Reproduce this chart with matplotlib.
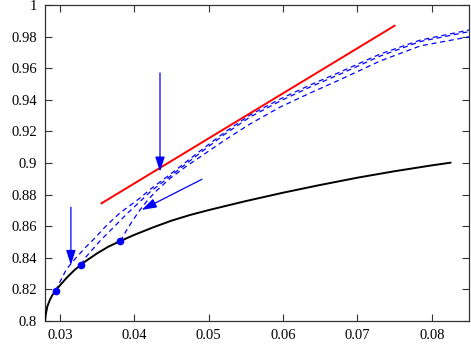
import numpy as np
import matplotlib
matplotlib.use('Agg')
import matplotlib.pyplot as plt
from matplotlib.ticker import FuncFormatter

# black reference curve
base_x = [0.0280, 0.0281, 0.0283, 0.02865, 0.0290, 0.02942, 0.0300, 0.0310, 0.0320, 0.03283,
          0.0335, 0.0350, 0.0365, 0.03812, 0.0400, 0.0425, 0.0450, 0.0475, 0.0500,
          0.0550, 0.0600, 0.0650, 0.0700, 0.0750, 0.0800, 0.0825]
base_y = [0.8000, 0.8040, 0.8090, 0.8133, 0.8165, 0.8192, 0.8225, 0.8278, 0.8324, 0.8356,
          0.8380, 0.8428, 0.8470, 0.8506, 0.8545, 0.8592, 0.8635, 0.8671, 0.8702,
          0.8759, 0.8812, 0.8861, 0.8907, 0.8948, 0.8985, 0.9002]

# operating points on the black curve
pts_x = [0.02942, 0.03283, 0.03812]
pts_y = [0.8192, 0.8356, 0.8506]

# dashed branches starting at each point
branch_a_x = [0.02942, 0.03013, 0.03090, 0.03202, 0.03336, 0.03471, 0.03633, 0.03808, 0.04077,
              0.04211, 0.04480, 0.04884, 0.05221, 0.05557, 0.05961, 0.06365, 0.06769,
              0.07307, 0.07845, 0.08505]
branch_a_y = [0.8192, 0.8259, 0.8329, 0.8392, 0.8462, 0.8525, 0.8608, 0.8684, 0.8778,
              0.8832, 0.8927, 0.9076, 0.9196, 0.9304, 0.9405, 0.9494, 0.9576,
              0.9690, 0.9778, 0.9842]
branch_b_x = [0.03283, 0.03350, 0.03431, 0.03538, 0.03713, 0.03898, 0.04077, 0.04211, 0.04480,
              0.04884, 0.05221, 0.05557, 0.05961, 0.06365, 0.06769, 0.07307, 0.07845, 0.08505]
branch_b_y = [0.8356, 0.8405, 0.8449, 0.8506, 0.8589, 0.8677, 0.8756, 0.8816, 0.8915,
              0.9063, 0.9184, 0.9291, 0.9392, 0.9481, 0.9563, 0.9677, 0.9769, 0.9832]
branch_c_x = [0.03812, 0.03898, 0.03983, 0.04077, 0.04171, 0.04279, 0.04480, 0.04705, 0.04884,
              0.05221, 0.05557, 0.05961, 0.06365, 0.06769, 0.07307, 0.07845, 0.08505]
branch_c_y = [0.8506, 0.8576, 0.8639, 0.8703, 0.8759, 0.8816, 0.8902, 0.8981, 0.9038,
              0.9146, 0.9247, 0.9354, 0.9443, 0.9528, 0.9646, 0.9741, 0.9799]

# tangent line
tangent_x = [0.0356, 0.0750]
tangent_y = [0.8745, 0.9869]

# arrows: (start, end)
arrows = [((0.04346, 0.9570), (0.04346, 0.8945)),
          ((0.03148, 0.8720), (0.03148, 0.8354)),
          ((0.04910, 0.8897), (0.04100, 0.8703))]

plt.rcParams['font.family'] = ['Liberation Serif', 'DejaVu Serif']

fig = plt.figure(figsize=(4.71, 3.54), dpi=100)
ax = fig.add_axes([45 / 471, 33 / 354, 424 / 471, 316 / 354])

ax.plot(base_x, base_y, color='black', lw=1.4, zorder=3)
for bx, by in [(branch_a_x, branch_a_y), (branch_b_x, branch_b_y), (branch_c_x, branch_c_y)]:
    ax.plot(bx, by, color='blue', lw=0.9, dashes=(4, 3), zorder=2)
ax.plot(tangent_x, tangent_y, color='red', lw=1.4, zorder=2)
ax.plot(pts_x, pts_y, 'o', color='blue', ms=4.5, zorder=4)

for (x0, y0), (x1, y1) in arrows:
    ax.annotate('', xy=(x1, y1), xytext=(x0, y0),
                arrowprops=dict(arrowstyle='-|>,head_length=0.75,head_width=0.24',
                                color='blue', lw=0.9, shrinkA=0, shrinkB=0,
                                mutation_scale=12))

ax.set_xlim(0.028, 0.085)
ax.set_ylim(0.8, 1.0)
ax.set_xticks(np.arange(0.03, 0.0851, 0.01))
ax.set_yticks(np.arange(0.8, 1.001, 0.02))
ax.xaxis.set_major_formatter(FuncFormatter(lambda v, p: '%g' % round(v, 3)))
ax.yaxis.set_major_formatter(FuncFormatter(lambda v, p: '%g' % round(v, 3)))
ax.tick_params(direction='in', length=5, width=0.8, top=True, right=True,
               labelsize=10.5, colors='#333333', labelcolor='black', pad=6)
for s in ax.spines.values():
    s.set_linewidth(0.9)
    s.set_color('#333333')

fig.savefig('out.png', dpi=100, facecolor='white')
